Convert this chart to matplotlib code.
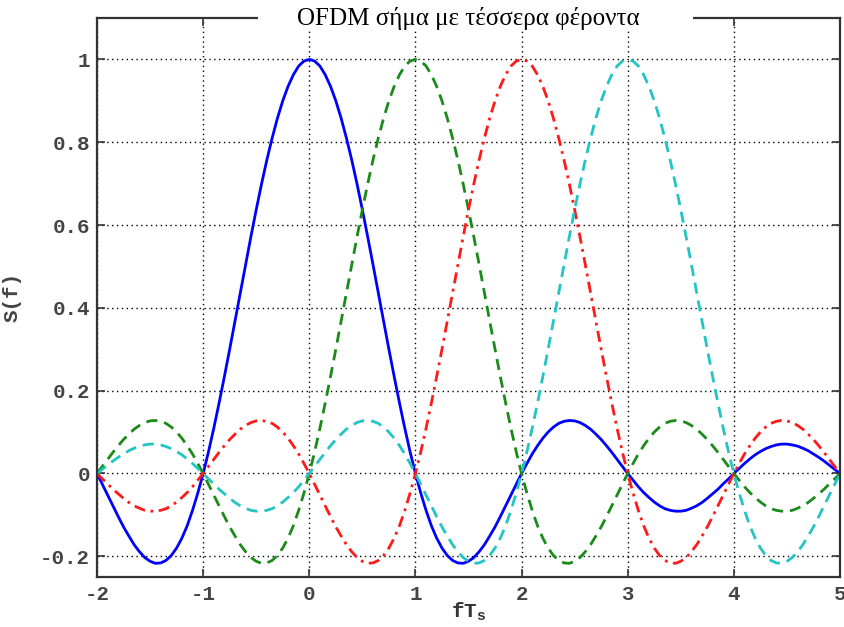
import numpy as np
import matplotlib.pyplot as plt
from matplotlib.patches import Rectangle

plt.rcParams["mathtext.fontset"] = "custom"
plt.rcParams["mathtext.rm"] = "Liberation Mono:bold"

# frequency axis fT_s, sampled every 0.05
f = np.linspace(-2, 5, 141)

# subcarrier spectra (centres at 0, 1, 2, 3)
s_carrier0 = [
    0.000, -0.026, -0.052, -0.078, -0.104, -0.129, -0.151, -0.172, -0.189, -0.203,
    -0.212, -0.217, -0.216, -0.210, -0.198, -0.180, -0.156, -0.126, -0.089, -0.047,
    0.000, 0.052, 0.109, 0.170, 0.234, 0.300, 0.368, 0.436, 0.505, 0.572,
    0.637, 0.699, 0.757, 0.810, 0.858, 0.900, 0.935, 0.963, 0.984, 0.996,
    1.000,
    0.996, 0.984, 0.963, 0.935, 0.900, 0.858, 0.810, 0.757, 0.699, 0.637,
    0.572, 0.505, 0.436, 0.368, 0.300, 0.234, 0.170, 0.109, 0.052, 0.000,
    -0.047, -0.089, -0.126, -0.156, -0.180, -0.198, -0.210, -0.216, -0.217, -0.212,
    -0.203, -0.189, -0.172, -0.151, -0.129, -0.104, -0.078, -0.052, -0.026, 0.000,
    0.024, 0.047, 0.067, 0.085, 0.100, 0.112, 0.121, 0.126, 0.128, 0.127,
    0.123, 0.116, 0.107, 0.095, 0.082, 0.067, 0.051, 0.034, 0.017, 0.000,
    -0.016, -0.032, -0.046, -0.058, -0.069, -0.078, -0.085, -0.089, -0.091, -0.091,
    -0.089, -0.084, -0.078, -0.070, -0.060, -0.049, -0.038, -0.025, -0.013, 0.000,
    0.012, 0.024, 0.035, 0.045, 0.053, 0.060, 0.065, 0.069, 0.071, 0.071,
    0.069, 0.066, 0.061, 0.055, 0.047, 0.039, 0.030, 0.020, 0.010, 0.000,
]
s_carrier1 = [
    0.000, 0.017, 0.034, 0.051, 0.067, 0.082, 0.095, 0.107, 0.116, 0.123,
    0.127, 0.128, 0.126, 0.121, 0.112, 0.100, 0.085, 0.067, 0.047, 0.024,
    0.000, -0.026, -0.052, -0.078, -0.104, -0.129, -0.151, -0.172, -0.189, -0.203,
    -0.212, -0.217, -0.216, -0.210, -0.198, -0.180, -0.156, -0.126, -0.089, -0.047,
    0.000, 0.052, 0.109, 0.170, 0.234, 0.300, 0.368, 0.436, 0.505, 0.572,
    0.637, 0.699, 0.757, 0.810, 0.858, 0.900, 0.935, 0.963, 0.984, 0.996,
    1.000,
    0.996, 0.984, 0.963, 0.935, 0.900, 0.858, 0.810, 0.757, 0.699, 0.637,
    0.572, 0.505, 0.436, 0.368, 0.300, 0.234, 0.170, 0.109, 0.052, 0.000,
    -0.047, -0.089, -0.126, -0.156, -0.180, -0.198, -0.210, -0.216, -0.217, -0.212,
    -0.203, -0.189, -0.172, -0.151, -0.129, -0.104, -0.078, -0.052, -0.026, 0.000,
    0.024, 0.047, 0.067, 0.085, 0.100, 0.112, 0.121, 0.126, 0.128, 0.127,
    0.123, 0.116, 0.107, 0.095, 0.082, 0.067, 0.051, 0.034, 0.017, 0.000,
    -0.016, -0.032, -0.046, -0.058, -0.069, -0.078, -0.085, -0.089, -0.091, -0.091,
    -0.089, -0.084, -0.078, -0.070, -0.060, -0.049, -0.038, -0.025, -0.013, 0.000,
]
s_carrier2 = [
    0.000, -0.013, -0.025, -0.038, -0.049, -0.060, -0.070, -0.078, -0.084, -0.089,
    -0.091, -0.091, -0.089, -0.085, -0.078, -0.069, -0.058, -0.046, -0.032, -0.016,
    0.000, 0.017, 0.034, 0.051, 0.067, 0.082, 0.095, 0.107, 0.116, 0.123,
    0.127, 0.128, 0.126, 0.121, 0.112, 0.100, 0.085, 0.067, 0.047, 0.024,
    0.000, -0.026, -0.052, -0.078, -0.104, -0.129, -0.151, -0.172, -0.189, -0.203,
    -0.212, -0.217, -0.216, -0.210, -0.198, -0.180, -0.156, -0.126, -0.089, -0.047,
    0.000, 0.052, 0.109, 0.170, 0.234, 0.300, 0.368, 0.436, 0.505, 0.572,
    0.637, 0.699, 0.757, 0.810, 0.858, 0.900, 0.935, 0.963, 0.984, 0.996,
    1.000,
    0.996, 0.984, 0.963, 0.935, 0.900, 0.858, 0.810, 0.757, 0.699, 0.637,
    0.572, 0.505, 0.436, 0.368, 0.300, 0.234, 0.170, 0.109, 0.052, 0.000,
    -0.047, -0.089, -0.126, -0.156, -0.180, -0.198, -0.210, -0.216, -0.217, -0.212,
    -0.203, -0.189, -0.172, -0.151, -0.129, -0.104, -0.078, -0.052, -0.026, 0.000,
    0.024, 0.047, 0.067, 0.085, 0.100, 0.112, 0.121, 0.126, 0.128, 0.127,
    0.123, 0.116, 0.107, 0.095, 0.082, 0.067, 0.051, 0.034, 0.017, 0.000,
]
s_carrier3 = [
    0.000, 0.010, 0.020, 0.030, 0.039, 0.047, 0.055, 0.061, 0.066, 0.069,
    0.071, 0.071, 0.069, 0.065, 0.060, 0.053, 0.045, 0.035, 0.024, 0.012,
    0.000, -0.013, -0.025, -0.038, -0.049, -0.060, -0.070, -0.078, -0.084, -0.089,
    -0.091, -0.091, -0.089, -0.085, -0.078, -0.069, -0.058, -0.046, -0.032, -0.016,
    0.000, 0.017, 0.034, 0.051, 0.067, 0.082, 0.095, 0.107, 0.116, 0.123,
    0.127, 0.128, 0.126, 0.121, 0.112, 0.100, 0.085, 0.067, 0.047, 0.024,
    0.000, -0.026, -0.052, -0.078, -0.104, -0.129, -0.151, -0.172, -0.189, -0.203,
    -0.212, -0.217, -0.216, -0.210, -0.198, -0.180, -0.156, -0.126, -0.089, -0.047,
    0.000, 0.052, 0.109, 0.170, 0.234, 0.300, 0.368, 0.436, 0.505, 0.572,
    0.637, 0.699, 0.757, 0.810, 0.858, 0.900, 0.935, 0.963, 0.984, 0.996,
    1.000,
    0.996, 0.984, 0.963, 0.935, 0.900, 0.858, 0.810, 0.757, 0.699, 0.637,
    0.572, 0.505, 0.436, 0.368, 0.300, 0.234, 0.170, 0.109, 0.052, 0.000,
    -0.047, -0.089, -0.126, -0.156, -0.180, -0.198, -0.210, -0.216, -0.217, -0.212,
    -0.203, -0.189, -0.172, -0.151, -0.129, -0.104, -0.078, -0.052, -0.026, 0.000,
]

xticks = [-2, -1, 0, 1, 2, 3, 4, 5]
yticks = [-0.2, 0, 0.2, 0.4, 0.6, 0.8, 1]
ytick_labels = ["-0.2", "0", "0.2", "0.4", "0.6", "0.8", "1"]

fig = plt.figure(figsize=(8.45, 6.27), dpi=100)
ax = fig.add_axes([97 / 845, 1 - 577 / 627, 743 / 845, 559 / 627])

ax.plot(f, s_carrier0, color="#0000ff", lw=2, ls="-")
ax.plot(f, s_carrier1, color="#1a8a1a", lw=2, ls=(0, (4, 2.5)))
ax.plot(f, s_carrier2, color="#ff1a1a", lw=2, ls=(0, (4, 2, 1, 2)))
ax.plot(f, s_carrier3, color="#22c4c4", lw=2, ls=(0, (4, 2.5)))

ax.set_xlim(-2, 5)
ax.set_ylim(-0.25, 1.1)
ax.set_xticks(xticks)
ax.set_xticklabels([str(t) for t in xticks])
ax.set_yticks(yticks)
ax.set_yticklabels(ytick_labels)

tick_font = dict(family="Liberation Mono", weight="bold", size=15)
for lab in ax.get_xticklabels() + ax.get_yticklabels():
    lab.set_fontproperties(tick_font)

ax.tick_params(direction="in", length=6, width=1.2, top=True, right=True, colors="#333333",
               labelcolor="#444444")
ax.tick_params(axis="x", pad=6)
ax.tick_params(axis="y", pad=5)
ax.grid(True, color="black", ls=(0, (1, 2.5)), lw=1)
for sp in ax.spines.values():
    sp.set_linewidth(1.6)
    sp.set_color("#333333")

ax.set_xlabel(r"fT$_{\mathrm{s}}$", fontfamily="Liberation Mono", fontweight="bold", fontsize=15,
              color="#333333", labelpad=-3)
ax.set_ylabel("S(f)", fontfamily="Liberation Mono", fontweight="bold", fontsize=15,
              color="#444444")
ax.yaxis.set_label_coords(-0.101, 0.5)

# white strip behind the title, cutting the top frame line
ax.add_patch(Rectangle((0.2167, 0.98), 0.585, 0.04, transform=ax.transAxes,
                       facecolor="white", edgecolor="none", clip_on=False, zorder=9))
ax.text(0.5, 1.0, "OFDM σήμα με τέσσερα φέροντα", transform=ax.transAxes,
        ha="center", va="center", fontfamily="Liberation Serif", fontsize=18, zorder=10)

fig.savefig("out.png", dpi=100)
